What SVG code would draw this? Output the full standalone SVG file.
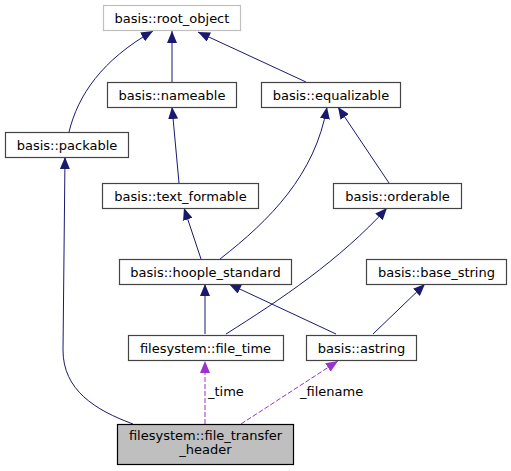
<svg xmlns="http://www.w3.org/2000/svg" width="511" height="471" viewBox="0 0 511 471">
<defs>
<style>
.n rect{fill:#fff;stroke:#444;stroke-width:1.2}
.n text{font-family:"DejaVu Sans",sans-serif;font-size:13px;text-anchor:middle;fill:#000}
.e path{fill:none;stroke:#191970;stroke-width:1}
.e path.d{stroke:#9a32cd;stroke-dasharray:5,2}
.lbl{font-family:"DejaVu Sans",sans-serif;font-size:13px;fill:#000}
</style>
<marker id="a" markerUnits="userSpaceOnUse" markerWidth="12" markerHeight="10" refX="12" refY="5" orient="auto"><path d="M0,0 L12,5 L0,10 z" fill="#191970"/></marker>
<marker id="p" markerUnits="userSpaceOnUse" markerWidth="12" markerHeight="10" refX="12" refY="5" orient="auto"><path d="M0,0 L12,5 L0,10 z" fill="#9a32cd"/></marker>
</defs>
<rect width="511" height="471" fill="#fff"/>
<g id="connectors" class="e">
<path d="M69,132 C78,95 102,60 153,31" marker-end="url(#a)"/>
<path d="M306,82 L198,32" marker-end="url(#a)"/>
<path d="M172,82 L172,31" marker-end="url(#a)"/>
<path d="M179,183 L172,107" marker-end="url(#a)"/>
<path d="M201,259 L184,208" marker-end="url(#a)"/>
<path d="M220,259 C270,220 315,175 327,107" marker-end="url(#a)"/>
<path d="M389,183 L338,107" marker-end="url(#a)"/>
<path d="M205,334 L205,284" marker-end="url(#a)"/>
<path d="M226,334 C280,300 340,260 387,208" marker-end="url(#a)"/>
<path d="M336,334 L229,284" marker-end="url(#a)"/>
<path d="M373,334 L425,284" marker-end="url(#a)"/>
<path d="M133,424 C95,410 63,390 63,350 L65,157" marker-end="url(#a)"/>
<path class="d" d="M205,424 L205,361" marker-end="url(#p)"/>
<path class="d" d="M241,424 L338,361" marker-end="url(#p)"/>
<text class="lbl" x="208" y="396">_time</text>
<text class="lbl" x="300" y="396">_filename</text>
</g>
<g id="root_object" class="n"><rect x="103.5" y="5.5" width="137" height="25" style="stroke:#bfbfbf"/><text x="172" y="22.5">basis::root_object</text></g>
<g id="nameable" class="n"><rect x="107.5" y="82.5" width="129" height="25"/><text x="172" y="99.5">basis::nameable</text></g>
<g id="equalizable" class="n"><rect x="261.5" y="82.5" width="139" height="25"/><text x="331" y="99.5">basis::equalizable</text></g>
<g id="packable" class="n"><rect x="5.5" y="132.5" width="123" height="25"/><text x="67" y="149.5">basis::packable</text></g>
<g id="text_formable" class="n"><rect x="102.5" y="183.5" width="156" height="25"/><text x="180.5" y="200.5">basis::text_formable</text></g>
<g id="orderable" class="n"><rect x="333.5" y="183.5" width="128" height="25"/><text x="397.5" y="200.5">basis::orderable</text></g>
<g id="hoople_standard" class="n"><rect x="119.5" y="259.5" width="172" height="25"/><text x="205.5" y="276.5">basis::hoople_standard</text></g>
<g id="base_string" class="n"><rect x="366.5" y="259.5" width="140" height="25"/><text x="436.5" y="276.5">basis::base_string</text></g>
<g id="file_time" class="n"><rect x="128.5" y="335.5" width="155" height="25"/><text x="205.5" y="352.5">filesystem::file_time</text></g>
<g id="astring" class="n"><rect x="306.5" y="335.5" width="110" height="25"/><text x="361.5" y="352.5">basis::astring</text></g>
<g id="file_transfer_header" class="n"><rect x="117.5" y="424.5" width="176" height="40" style="fill:#bfbfbf;stroke:#000"/><text x="205.5" y="440">filesystem::file_transfer</text><text x="205.5" y="454">_header</text></g>
</svg>
